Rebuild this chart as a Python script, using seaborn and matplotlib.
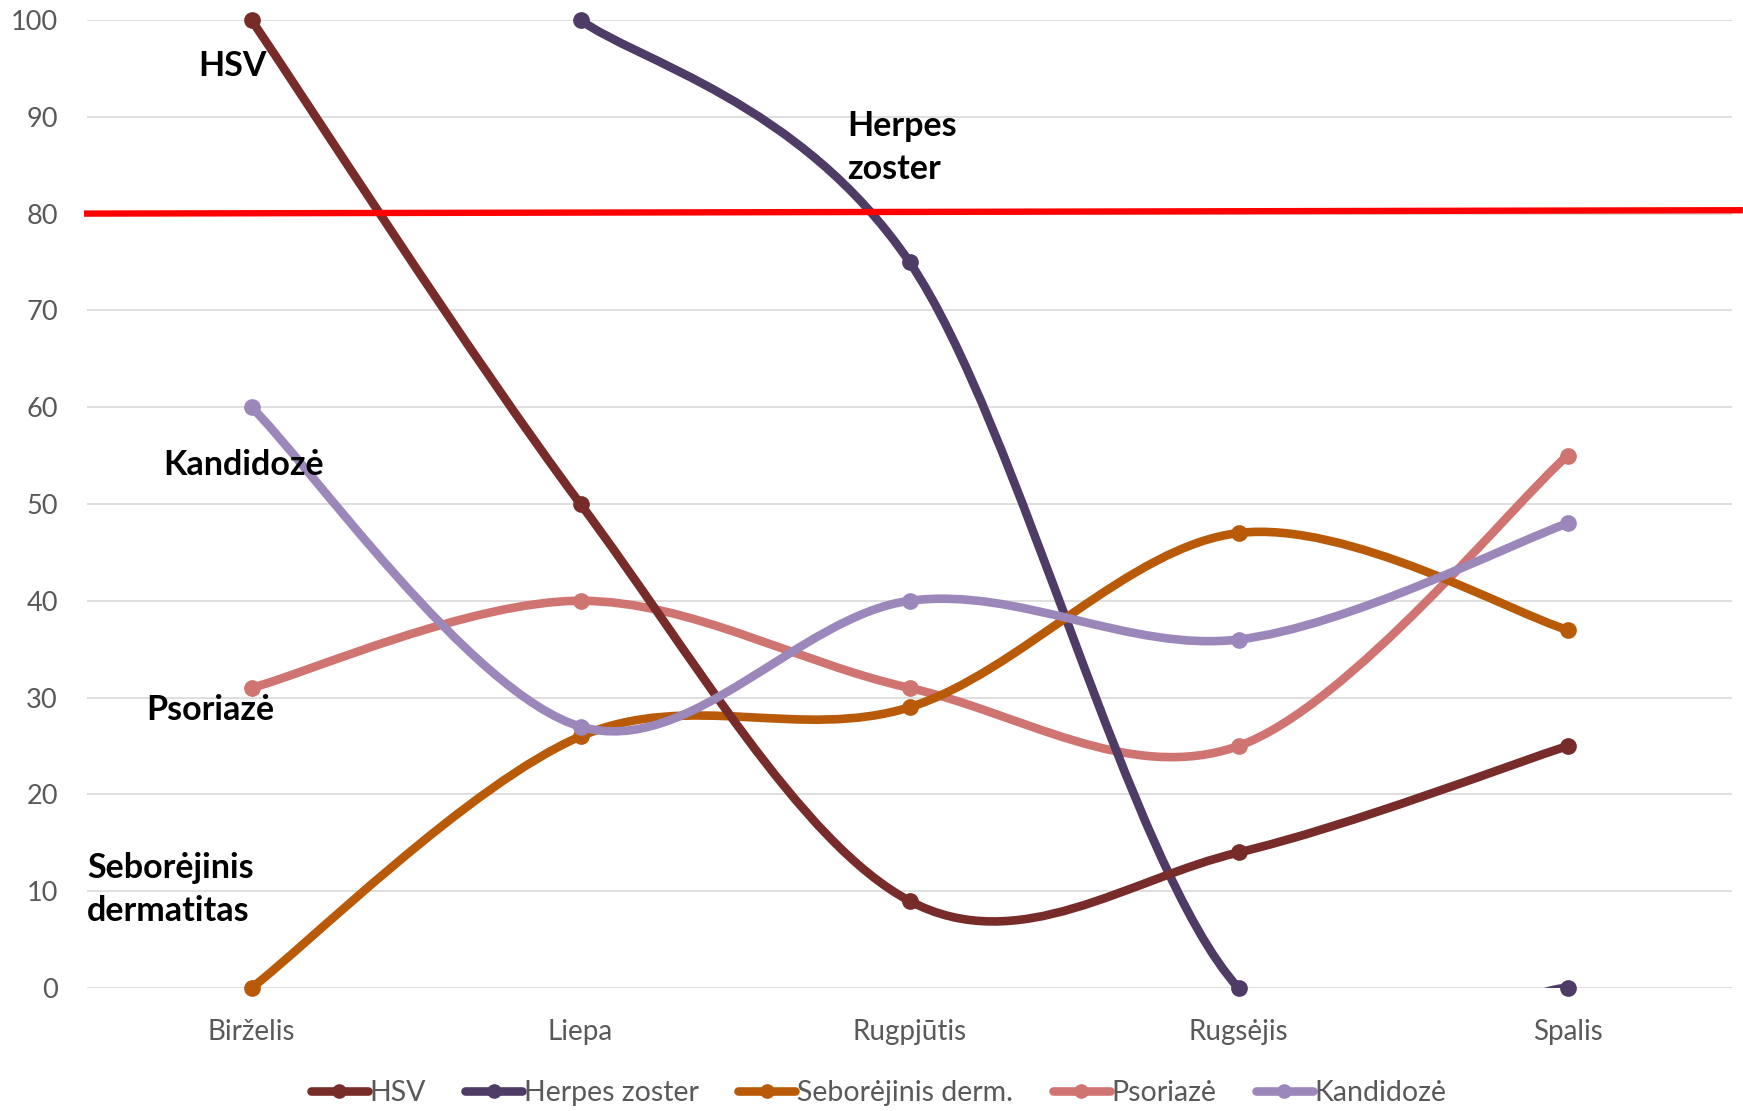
import numpy as np
import pandas as pd
import matplotlib
matplotlib.use("Agg")
import matplotlib.pyplot as plt
from matplotlib.path import Path
from matplotlib.patches import PathPatch
from matplotlib.lines import Line2D
import seaborn as sns

# ---- data -------------------------------------------------------------
months = ["Birželis", "Liepa", "Rugpjūtis", "Rugsėjis", "Spalis"]
hsv = [100, 50, 9, 14, 25]
herpes_zoster = [np.nan, 100, 75, 0, 0]
seborejinis = [0, 26, 29, 47, 37]
psoriaze = [31, 40, 31, 25, 55]
kandidoze = [60, 27, 40, 36, 48]

legend_names = ["HSV", "Herpes zoster", "Seborėjinis derm.", "Psoriazė", "Kandidozė"]
colors = ["#772C2A", "#4E3B66", "#B85A07", "#D07471", "#9C87BB"]
# stacking order of the series (higher = drawn later)
stack = [4, 2, 3, 1, 5]
threshold = 80
yticks = list(range(0, 101, 10))

series = [hsv, herpes_zoster, seborejinis, psoriaze, kandidoze]

# ---- style ------------------------------------------------------------
sns.set_theme(style="white")
plt.rcParams["font.family"] = ["Lato", "DejaVu Sans"]

fig = plt.figure(figsize=(17.43, 11.11), dpi=100)
ax = fig.add_axes([87 / 1743, 1 - 988 / 1111, (1732 - 87) / 1743, (988 - 20) / 1111])

x = np.arange(len(months))


def smooth_path(xs, ys):
    """Excel-like smoothed line: cubic Bezier segments through the points."""
    pts = [np.array([a, b], float) for a, b in zip(xs, ys) if not np.isnan(b)]
    n = len(pts)
    verts = [tuple(pts[0])]
    codes = [Path.MOVETO]
    for i in range(n - 1):
        p0 = pts[i - 1] if i > 0 else pts[i]
        p1, p2 = pts[i], pts[i + 1]
        p3 = pts[i + 2] if i + 2 < n else pts[i + 1]
        c1 = p1 + (p2 - p0) / 6.0
        c2 = p2 - (p3 - p1) / 6.0
        verts += [tuple(c1), tuple(c2), tuple(p2)]
        codes += [Path.CURVE4] * 3
    return Path(verts, codes)


for vals, col, z in zip(series, colors, stack):
    patch = PathPatch(smooth_path(x, vals), fill=False, edgecolor=col,
                      lw=6.2, capstyle="round", joinstyle="round", zorder=2 + z)
    ax.add_patch(patch)
    df = pd.DataFrame({"x": x, "y": vals}).dropna()
    sns.scatterplot(data=df, x="x", y="y", color=col, s=145, linewidth=0,
                    ax=ax, clip_on=False, zorder=2 + z, legend=False)

# threshold line
ax.plot([-0.509, 4.533], [threshold, threshold + 0.35], color="#FF0000",
        lw=4.6, solid_capstyle="butt", clip_on=False, zorder=20)

ax.set_xlim(-0.5, 4.5)
ax.set_ylim(0, 100)
ax.set_xticks(x)
ax.set_xticklabels(months)
ax.set_yticks(yticks)
ax.set_xlabel("")
ax.set_ylabel("")
ax.tick_params(axis="y", length=0, pad=21, labelsize=19.5, labelcolor="#595959")
ax.tick_params(axis="x", length=0, pad=22, labelsize=20, labelcolor="#595959")
ax.grid(axis="y", color="#D9D9D9", lw=1.2, zorder=0)
ax.set_axisbelow(True)
for s in ax.spines.values():
    s.set_visible(False)

# series labels
lab = dict(fontsize=24.5, fontweight="bold", color="black", zorder=25)
ax.text(-0.163, 95.2, "HSV", va="center", ha="left", **lab)
ax.text(1.81, 86.8, "Herpes\nzoster", va="center", ha="left", linespacing=1.42, **lab)
ax.text(-0.269, 54.0, "Kandidozė", va="center", ha="left", **lab)
ax.text(-0.32, 28.7, "Psoriazė", va="center", ha="left", **lab)
ax.text(-0.5, 10.2, "Seborėjinis\ndermatitas", va="center", ha="left", linespacing=1.42, **lab)

# legend
handles = [Line2D([0], [0], color=c, lw=6.2, marker="o", markersize=9.5,
                  solid_capstyle="round") for c in colors]
fig.legend(handles, legend_names, loc="center", bbox_to_anchor=(0.504, 1 - 1093 / 1111),
           ncol=5, frameon=False, fontsize=20.5, handlelength=2.0, handletextpad=0.05,
           columnspacing=1.4, labelcolor="#595959")

fig.savefig("out.png", dpi=100)
